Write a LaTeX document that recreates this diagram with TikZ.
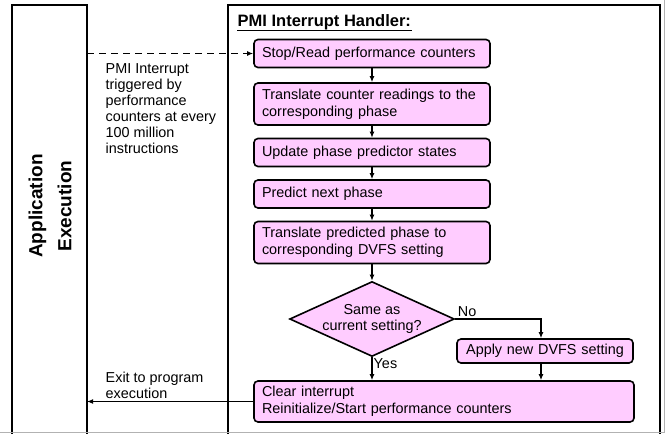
\documentclass[tikz,border=0pt]{standalone}
\usepackage{fontspec}
\setmainfont{Liberation Sans}
\usetikzlibrary{arrows.meta, shapes.geometric}
\definecolor{boxpink}{RGB}{255,204,255}

\begin{document}
\begin{tikzpicture}[x=1pt, y=-1pt, line width=1.4pt,
    font=\fontsize{14.4}{16.7}\selectfont,
    stepbox/.style={draw, fill=boxpink, rounded corners=4pt, line width=1.6pt,
      align=left, text width=220pt, inner xsep=8pt, inner ysep=2pt, minimum height=28pt},
    decision/.style={diamond, draw, fill=boxpink, line width=1.6pt, align=center,
      aspect=2.2, minimum width=164pt, minimum height=75pt, inner sep=0pt},
    note/.style={align=left, inner sep=0pt},
    flow/.style={-{Latex[length=6pt, width=5pt]}}]
  \useasboundingbox (0,0) rectangle (665,434);
  % lanes and frame
  \draw[line width=1.6pt] (12,434) -- (12,5) -- (87,5) -- (87,434);
  \draw[line width=1.6pt] (228,434) -- (228,5) -- (660,5) -- (660,434);
  \draw[gray!60, line width=1pt] (0,432) -- (664,432) -- (664,0);
  \coordinate (lane) at (87,0);
  \node[rotate=90, align=center, font=\bfseries\fontsize{19}{29}\selectfont] (app) at (50,206) {Application\\Execution};

  \node[anchor=base west, inner sep=0pt, font=\bfseries\fontsize{16.5}{19}\selectfont] (title) at (237,26) {PMI Interrupt Handler:};
  \draw[line width=1.8pt] ([yshift=-4.5pt]title.base west) -- ([yshift=-4.5pt]title.base east);

  % handler steps
  \node[stepbox] (stop) at (372,53.5) {Stop/Read performance counters};
  \node[stepbox, minimum height=42pt] (xlate) at (372,104) {Translate counter readings to the\\corresponding phase};
  \node[stepbox] (update) at (372,152.5) {Update phase predictor states};
  \node[stepbox] (predict) at (372,194) {Predict next phase};
  \node[stepbox, minimum height=42pt] (dvfs) at (372,242.5) {Translate predicted phase to\\corresponding DVFS setting};
  \node[decision] (same) at (372,319) {Same as\\current setting?};
  \node[stepbox, text width=160pt, align=center, minimum height=24pt] (apply) at (545,351) {Apply new DVFS setting};
  \node[stepbox, text width=364pt, minimum height=41pt] (clear) at (444,401.5) {Clear interrupt\\Reinitialize/Start performance counters};

  \draw[flow] (stop) -- (xlate);
  \draw[flow] (xlate) -- (update);
  \draw[flow] (update) -- (predict);
  \draw[flow] (predict) -- (dvfs);
  \draw[flow] (dvfs) -- (same);
  \draw[flow] (same.east) -| ([xshift=-4pt]apply.north) node[pos=0.07, above, inner sep=2pt] (no) {No};
  \draw[flow] ([xshift=-4pt]apply.south) -- ([xshift=-4pt]apply.south |- clear.north);
  \draw[flow] (same.south) -- (same.south |- clear.north);
  \node[anchor=west, inner sep=1pt] (yes) at ([yshift=-6pt]same.south) {Yes};

  % entry and exit
  \draw[flow, dash pattern=on 7pt off 5pt] (lane |- stop) -- (stop);
  \node[note, anchor=north west, font=\fontsize{14.4}{16}\selectfont] (pmi) at (105,63) {PMI Interrupt\\triggered by\\performance\\counters at every\\100 million\\instructions};
  \draw[flow] (clear) -- (lane |- clear);
  \node[note, anchor=north west, font=\fontsize{14.4}{15.5}\selectfont] (exit) at (105,371.5) {Exit to program\\execution};
\end{tikzpicture}
\end{document}
